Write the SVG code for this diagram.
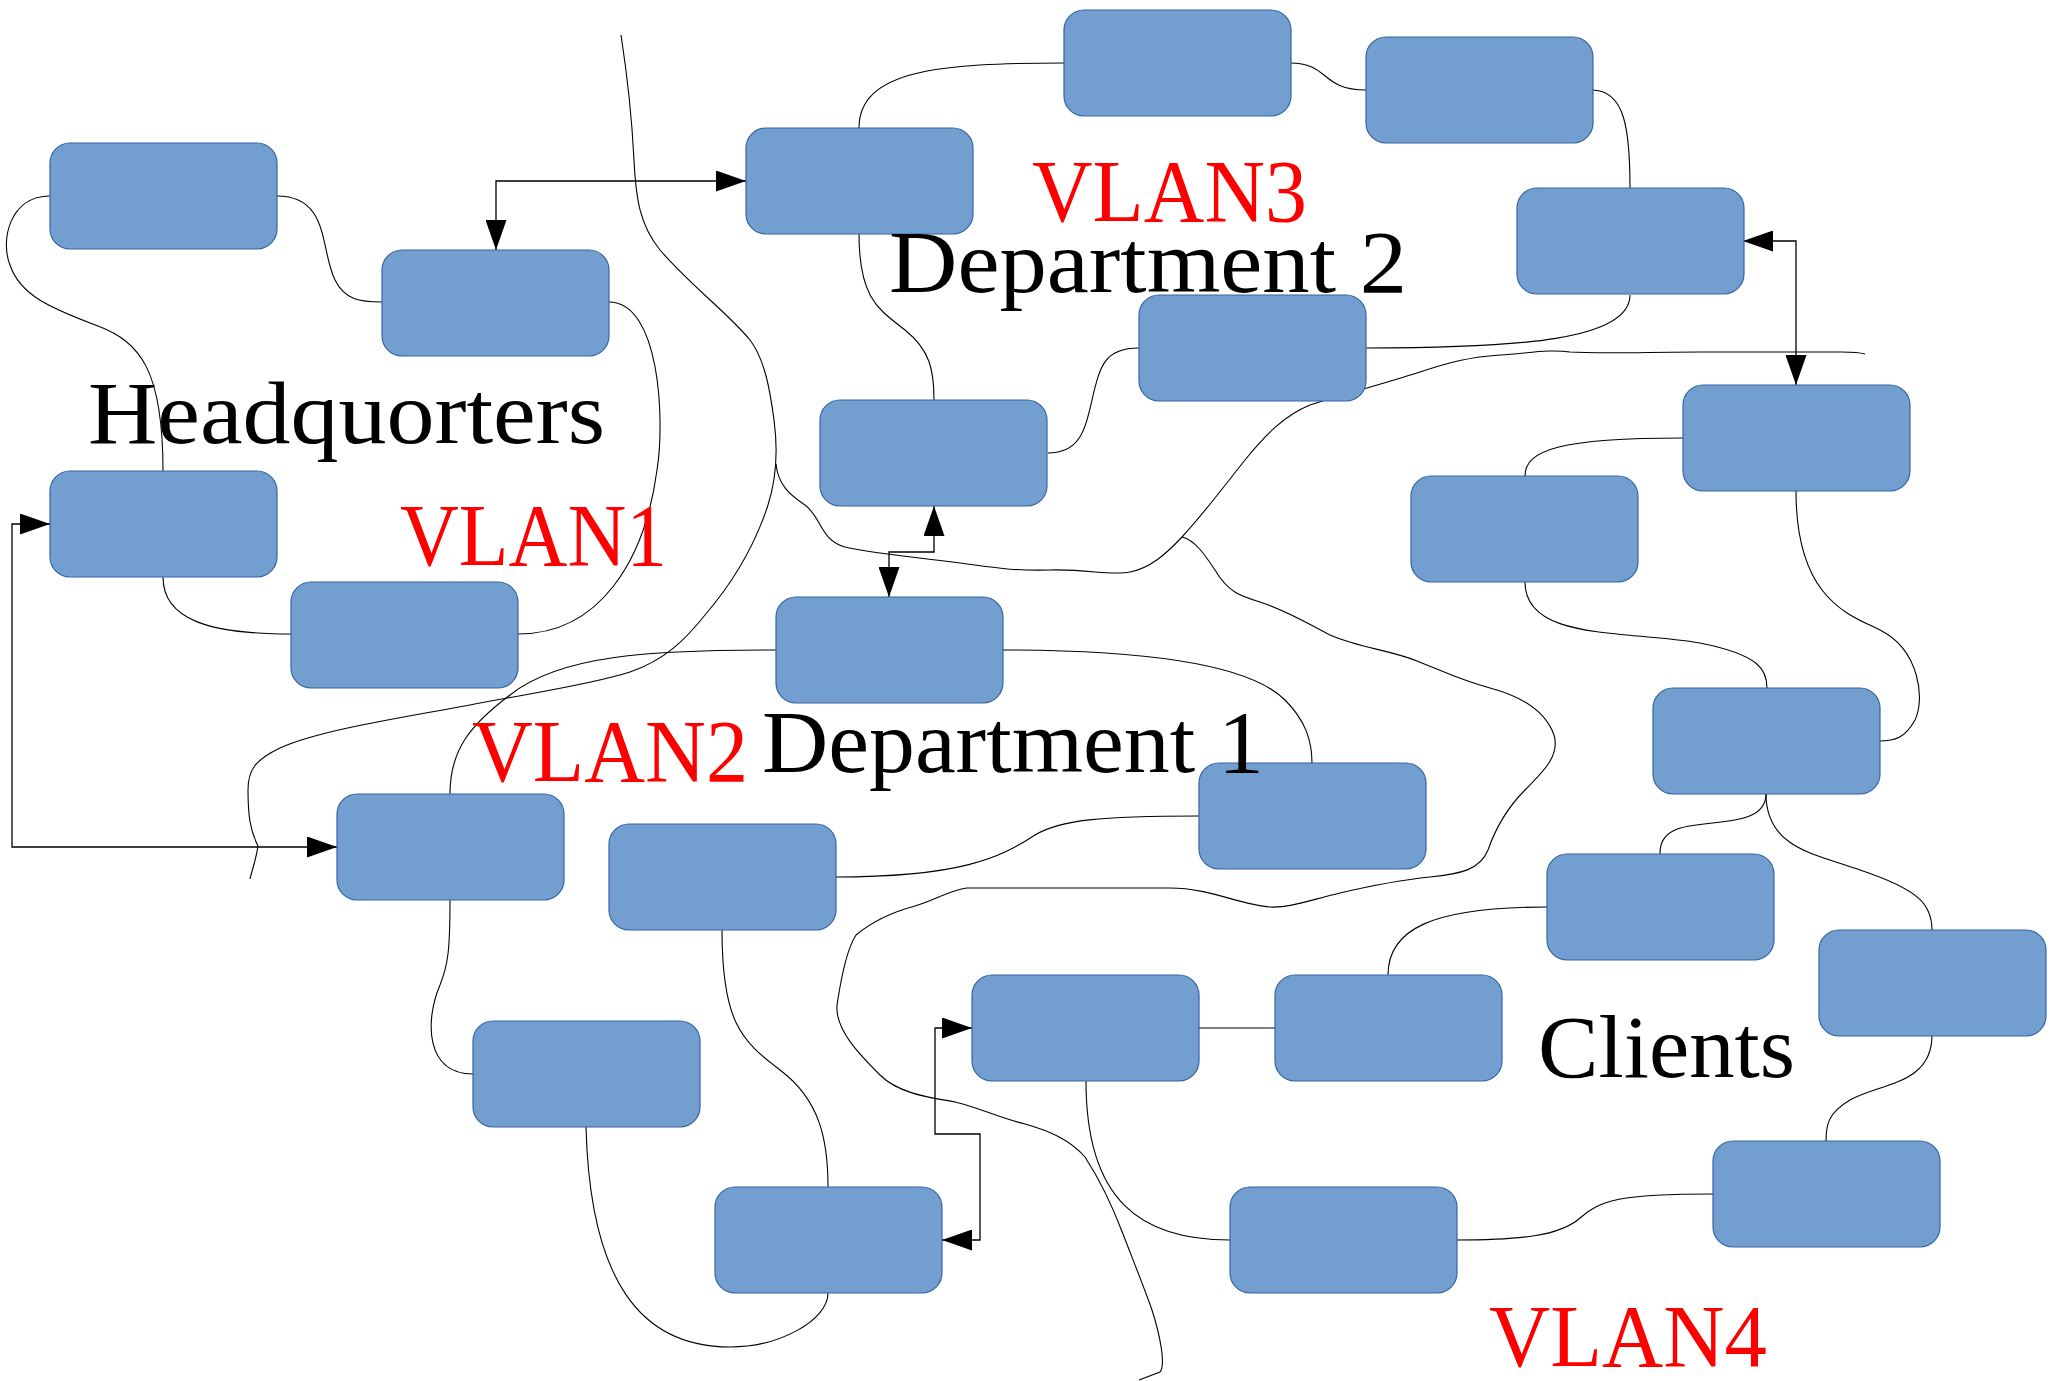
<svg xmlns="http://www.w3.org/2000/svg" width="2050" height="1381" viewBox="0 0 2050 1381">
<style>
.n{fill:#729fcf;stroke:#3465a4;stroke-width:1.2}
.c{fill:none;stroke:#000;stroke-width:1.1}
.a{fill:none;stroke:#000;stroke-width:1.3}
.t{font-family:"Liberation Serif","DejaVu Serif",serif;font-size:88px;fill:#000}
.r{fill:#ff0000}
</style>
<defs>
<marker id="arr" viewBox="0 0 30 21" refX="30" refY="10.5" markerWidth="30" markerHeight="21" markerUnits="userSpaceOnUse" orient="auto-start-reverse"><path d="M0,0 L30,10.5 L0,21 z" fill="#000"/></marker>
</defs>
<rect width="2050" height="1381" fill="#fff"/>
<g id="connectors">
<!-- boundary lines -->
<path class="c" d="M621,35 C628,80 632,120 634,160 C636,200 640,225 660,250 C690,285 730,315 750,340 C765,360 770,390 774,420 C778,450 776,480 768,505 C755,545 735,580 705,615 C685,640 665,660 630,672 C590,685 520,695 470,705 C400,718 320,730 280,748 C255,760 248,770 248,790 C248,815 250,830 258,846 C256,860 252,870 250,879"/>
<path class="c" d="M776,464 C778,485 790,495 805,505 C822,518 820,540 845,547 C870,553 920,558 960,563 C990,567 1010,571 1050,570 C1090,569 1110,576 1130,572 C1150,568 1165,555 1182,537 C1205,512 1225,485 1245,460 C1265,435 1285,415 1310,405 C1340,395 1380,385 1420,372 C1450,362 1470,357 1500,355 C1530,353 1550,349 1570,352 C1600,354 1650,352 1700,352 L1842,352 C1850,352 1858,352 1865,354"/>
<path class="c" d="M1182,537 C1195,540 1205,555 1215,570 C1228,592 1240,596 1260,602 C1290,612 1310,625 1330,635 C1360,648 1390,650 1417,661 C1445,672 1460,680 1490,688 C1520,696 1545,710 1554,735 C1560,755 1545,770 1525,790 C1505,810 1495,830 1488,850 C1480,870 1460,874 1430,877 C1400,880 1370,886 1340,893 C1310,900 1290,908 1270,907 C1240,905 1210,888 1170,888 L967,888 C950,890 935,900 915,906 C885,914 868,925 856,935 C846,950 840,985 837,1005 C835,1030 860,1055 880,1075 C900,1095 935,1098 955,1102 C980,1108 1000,1118 1025,1124 C1050,1131 1070,1140 1085,1157 C1100,1180 1112,1205 1123,1234 C1135,1265 1145,1290 1152,1310 C1160,1335 1166,1365 1160,1372 L1139,1380"/>
<!-- node links -->
<path class="c" d="M50,196 C10,196 0,240 10,265 C20,295 50,308 98,326 C140,342 163,370 163,471"/>
<path class="c" d="M277,196 C330,196 320,250 335,280 C345,300 360,302 382,302"/>
<path class="c" d="M609,302 C660,302 665,420 657,470 C645,560 600,634 518,634"/>
<path class="c" d="M163,577 C163,620 210,634 291,634"/>
<path class="c" d="M859,128 C859,70 940,63 1064,63"/>
<path class="c" d="M1290,63 C1330,63 1320,90 1366,90"/>
<path class="c" d="M1592,90 C1625,90 1630,130 1630,188"/>
<path class="c" d="M1630,295 C1630,340 1520,348 1366,348"/>
<path class="c" d="M1048,453 C1080,453 1085,430 1092,400 C1100,365 1105,348 1139,348"/>
<path class="c" d="M859,234 C859,300 880,310 905,330 C930,350 934,370 934,400"/>
<path class="c" d="M1683,438 C1560,438 1525,450 1525,476"/>
<path class="c" d="M1525,582 C1525,640 1620,630 1700,643 C1760,655 1767,670 1767,688"/>
<path class="c" d="M1796,491 C1796,600 1850,615 1880,630 C1920,650 1925,700 1915,720 C1905,738 1895,741 1879,741"/>
<path class="c" d="M1766,794 C1766,830 1700,818 1675,830 C1662,836 1660,845 1660,854"/>
<path class="c" d="M1766,794 C1766,850 1820,855 1860,870 C1920,890 1932,905 1932,930"/>
<path class="c" d="M1932,1035 C1932,1085 1880,1083 1850,1100 C1828,1113 1826,1125 1826,1141"/>
<path class="c" d="M1713,1194 C1620,1194 1600,1200 1580,1218 C1560,1236 1520,1240 1456,1240"/>
<path class="c" d="M1086,1081 C1086,1200 1140,1240 1230,1240"/>
<path class="c" d="M1199,1028 L1275,1028"/>
<path class="c" d="M1388,975 C1388,930 1430,907 1547,907"/>
<path class="c" d="M1199,816 C1100,816 1060,820 1035,835 C1000,858 960,877 835,877"/>
<path class="c" d="M1002,650 C1150,650 1250,665 1285,700 C1305,720 1312,740 1312,763"/>
<path class="c" d="M776,650 C650,650 560,655 510,695 C470,725 450,750 450,794"/>
<path class="c" d="M450,900 C450,950 448,965 440,985 C425,1020 425,1074 473,1074"/>
<path class="c" d="M722,930 C722,1020 740,1040 780,1070 C820,1100 828,1140 828,1187"/>
<path class="c" d="M586,1127 C590,1280 640,1347 730,1347 C780,1347 828,1320 828,1293"/>
<!-- arrows -->
<path class="a" d="M496,250 L496,181 L746,181" marker-start="url(#arr)" marker-end="url(#arr)"/>
<path class="a" d="M50,524 L12,524 L12,847 L337,847" marker-start="url(#arr)" marker-end="url(#arr)"/>
<path class="a" d="M889,597 L889,552 L934,552 L934,506" marker-start="url(#arr)" marker-end="url(#arr)"/>
<path class="a" d="M1743,241 L1796,241 L1796,385" marker-start="url(#arr)" marker-end="url(#arr)"/>
<path class="a" d="M972,1028 L935,1028 L935,1134 L980,1134 L980,1240 L942,1240" marker-start="url(#arr)" marker-end="url(#arr)"/>
</g>
<g id="nA"><rect class="n" x="50" y="143" width="227" height="106" rx="20"/></g>
<g id="nB"><rect class="n" x="382" y="250" width="227" height="106" rx="20"/></g>
<g id="nC"><rect class="n" x="746" y="128" width="227" height="106" rx="20"/></g>
<g id="nD"><rect class="n" x="50" y="471" width="227" height="106" rx="20"/></g>
<g id="nE"><rect class="n" x="291" y="582" width="227" height="106" rx="20"/></g>
<g id="nF"><rect class="n" x="820" y="400" width="227" height="106" rx="20"/></g>
<g id="nG"><rect class="n" x="776" y="597" width="227" height="106" rx="20"/></g>
<g id="nH"><rect class="n" x="1064" y="10" width="227" height="106" rx="20"/></g>
<g id="nI"><rect class="n" x="1366" y="37" width="227" height="106" rx="20"/></g>
<g id="nJ"><rect class="n" x="1517" y="188" width="227" height="106" rx="20"/></g>
<g id="nK"><rect class="n" x="1139" y="295" width="227" height="106" rx="20"/></g>
<g id="nL"><rect class="n" x="1683" y="385" width="227" height="106" rx="20"/></g>
<g id="nM"><rect class="n" x="1411" y="476" width="227" height="106" rx="20"/></g>
<g id="nN"><rect class="n" x="1653" y="688" width="227" height="106" rx="20"/></g>
<g id="nO"><rect class="n" x="337" y="794" width="227" height="106" rx="20"/></g>
<g id="nP"><rect class="n" x="609" y="824" width="227" height="106" rx="20"/></g>
<g id="nQ"><rect class="n" x="473" y="1021" width="227" height="106" rx="20"/></g>
<g id="nR"><rect class="n" x="715" y="1187" width="227" height="106" rx="20"/></g>
<g id="nS"><rect class="n" x="972" y="975" width="227" height="106" rx="20"/></g>
<g id="nT"><rect class="n" x="1199" y="763" width="227" height="106" rx="20"/></g>
<g id="nU"><rect class="n" x="1547" y="854" width="227" height="106" rx="20"/></g>
<g id="nV"><rect class="n" x="1819" y="930" width="227" height="106" rx="20"/></g>
<g id="nW"><rect class="n" x="1275" y="975" width="227" height="106" rx="20"/></g>
<g id="nX"><rect class="n" x="1230" y="1187" width="227" height="106" rx="20"/></g>
<g id="nY"><rect class="n" x="1713" y="1141" width="227" height="106" rx="20"/></g>
<g id="labels">
<text class="t" x="88" y="443" textLength="517" lengthAdjust="spacingAndGlyphs">Headquorters</text>
<text class="t r" x="400" y="565" textLength="267" lengthAdjust="spacingAndGlyphs">VLAN1</text>
<text class="t" x="889" y="292" textLength="518" lengthAdjust="spacingAndGlyphs">Department 2</text>
<text class="t r" x="1032" y="221" textLength="275" lengthAdjust="spacingAndGlyphs">VLAN3</text>
<text class="t r" x="472" y="781" textLength="276" lengthAdjust="spacingAndGlyphs">VLAN2</text>
<text class="t" x="762" y="772" textLength="502" lengthAdjust="spacingAndGlyphs">Department 1</text>
<text class="t" x="1538" y="1077" textLength="257" lengthAdjust="spacingAndGlyphs">Clients</text>
<text class="t r" x="1489" y="1366" textLength="278" lengthAdjust="spacingAndGlyphs">VLAN4</text>
</g>
</svg>
